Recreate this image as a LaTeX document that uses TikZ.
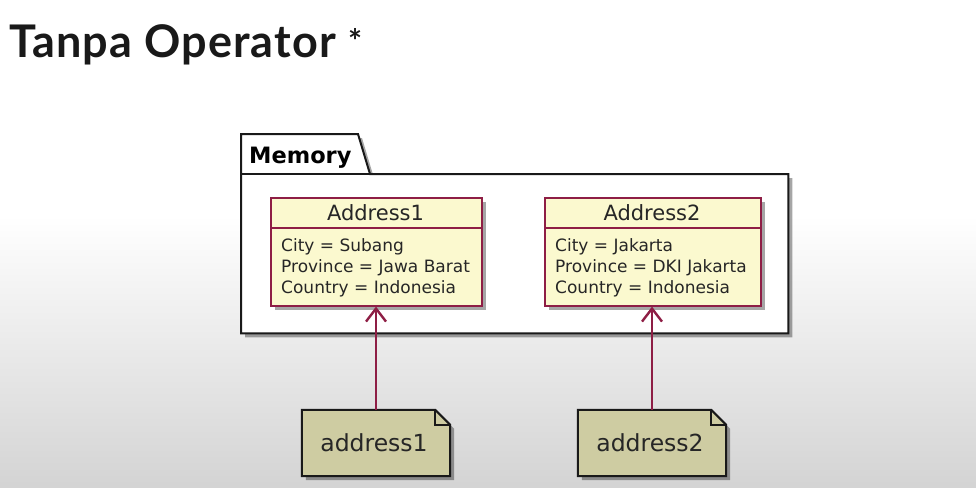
\documentclass[tikz,border=0pt]{standalone}
\usepackage{fontspec}
\setmainfont{DejaVu Sans}
\newfontfamily\titlefam[LetterSpace=2.5]{Lato}
\usetikzlibrary{arrows.meta,shadows}
\definecolor{clsfill}{HTML}{FBF9CF}
\definecolor{clsborder}{HTML}{8E1E45}
\definecolor{notefill}{HTML}{CECCA2}
\tikzset{
  shad/.style={drop shadow={shadow xshift=4pt,shadow yshift=-4pt,opacity=0.35,fill=black}},
  clsbox/.style={draw=clsborder,fill=clsfill,line width=1.6pt,shad,inner sep=0pt,anchor=north west},
  clshead/.style={font=\fontsize{21}{24}\selectfont,text=black!85},
  clsattr/.style={font=\fontsize{17}{21}\selectfont,align=left,anchor=west,text=black!85,inner sep=0pt},
  notenode/.style={inner sep=0pt,font=\fontsize{23.5}{26}\selectfont,text=black!85},
  noteline/.style={draw=black!90,fill=notefill,line width=2pt,line join=miter,shad},
  arr/.style={draw=clsborder,line width=2pt,-{Straight Barb[length=13pt,width=20pt,line width=2.4pt]}},
}
\begin{document}
\begin{tikzpicture}[x=1pt,y=-1pt]
\useasboundingbox (0,0) rectangle (976,487);
\fill[white] (0,0) rectangle (976,487);
\shade[top color=white,bottom color=black!17] (0,215) rectangle (976,487);

\node[anchor=base west,inner sep=0pt,font=\titlefam\bfseries\fontsize{45}{52}\selectfont,text=black!90] (title) at (9,57) {Tanpa Operator {\fontsize{33}{40}\selectfont\raisebox{4pt}{*}}};

% package
\node[minimum width=547pt,minimum height=159pt,inner sep=0pt,anchor=north west] (mem) at (241,174) {};
\path[draw=black!90,fill=white,line width=2pt,shad] (mem.south west) -- (241,134) -- (358,134) -- (370,174) -- (mem.north east) -- (mem.south east) -- cycle;
\draw[black!90,line width=2pt] (mem.north west) -- (370,174);
\node[anchor=base west,inner sep=0pt,font=\bfseries\fontsize{22.5}{26}\selectfont] (memlabel) at (249,163) {Memory};

% classes
\node[clsbox,minimum width=211pt,minimum height=108pt] (a1) at (270,197) {};
\draw[clsborder,line width=1.6pt] (270,228) -- (481,228);
\node[clshead] (a1h) at (375.5,213) {Address1};
\node[clsattr] (a1b) at (281,268) {City = Subang\\Province = Jawa Barat\\Country = Indonesia};

\node[clsbox,minimum width=216pt,minimum height=108pt] (a2) at (544,197) {};
\draw[clsborder,line width=1.6pt] (544,228) -- (760,228);
\node[clshead] (a2h) at (652,213) {Address2};
\node[clsattr] (a2b) at (555,268) {City = Jakarta\\Province = DKI Jakarta\\Country = Indonesia};

% notes
\node[notenode,minimum width=148pt,minimum height=66pt] (n1) at (376,443) {};
\path[noteline] (n1.south west) -- (n1.north west) -- ([xshift=-15pt]n1.north east) -- ([yshift=-15pt]n1.north east) -- (n1.south east) -- cycle;
\draw[black!90,line width=1.5pt] ([xshift=-15pt]n1.north east) -- ([xshift=-15pt,yshift=-15pt]n1.north east) -- ([yshift=-15pt]n1.north east);
\node[notenode] (n1t) at (374,443) {address1};

\node[notenode,minimum width=148pt,minimum height=66pt] (n2) at (652,443) {};
\path[noteline] (n2.south west) -- (n2.north west) -- ([xshift=-15pt]n2.north east) -- ([yshift=-15pt]n2.north east) -- (n2.south east) -- cycle;
\draw[black!90,line width=1.5pt] ([xshift=-15pt]n2.north east) -- ([xshift=-15pt,yshift=-15pt]n2.north east) -- ([yshift=-15pt]n2.north east);
\node[notenode] (n2t) at (650,443) {address2};

% arrows
\draw[arr] (n1.north) -- (n1.north |- a1.south);
\draw[arr] (n2.north) -- (n2.north |- a2.south);
\end{tikzpicture}
\end{document}
